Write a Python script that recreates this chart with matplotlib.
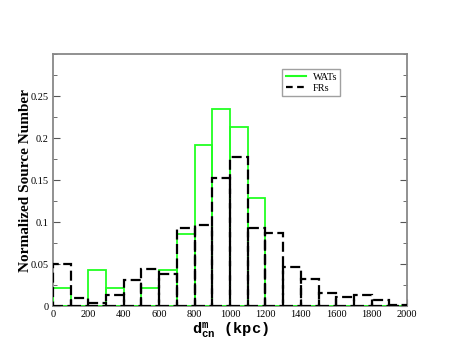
import numpy as np
import matplotlib
matplotlib.use("Agg")
import matplotlib.pyplot as plt
from matplotlib.ticker import MultipleLocator
from matplotlib.lines import Line2D

plt.rcParams['mathtext.fontset'] = 'custom'
plt.rcParams['mathtext.bf'] = 'Liberation Mono:bold'
plt.rcParams['mathtext.rm'] = 'Liberation Mono:bold'

# bin left edges (kpc), bin width 100
bin_left = list(range(0, 2000, 100))
wats = [0.021, 0.0, 0.043, 0.021, 0.0, 0.021, 0.043, 0.086, 0.192, 0.234,
        0.213, 0.128, 0.0, 0.0, 0.0, 0.0, 0.0, 0.0, 0.0, 0.0]
frs = [0.050, 0.010, 0.004, 0.013, 0.031, 0.044, 0.038, 0.093, 0.097, 0.152,
       0.177, 0.093, 0.087, 0.047, 0.032, 0.016, 0.011, 0.013, 0.007, 0.001]

fig = plt.figure(figsize=(4.58, 3.6), dpi=100)
ax = fig.add_axes([0.1157, 0.15, 0.773, 0.70])

ax.bar(bin_left, wats, width=100, align='edge', fill=False,
       edgecolor='#22ff22', linewidth=1.3, zorder=3)
ax.bar(bin_left, frs, width=100, align='edge', fill=False,
       edgecolor='black', linewidth=1.6, linestyle=(0, (4.5, 2)), zorder=4)

ax.set_xlim(0, 2000)
ax.set_ylim(0, 0.3)
ax.xaxis.set_major_locator(MultipleLocator(200))
ax.xaxis.set_minor_locator(MultipleLocator(100))
ax.yaxis.set_minor_locator(MultipleLocator(0.025))
ax.set_yticks([0, 0.05, 0.1, 0.15, 0.2, 0.25])
ax.set_yticklabels(['0', '0.05', '0.1', '0.15', '0.2', '0.25'])

for s in ax.spines.values():
    s.set_color('#888888')
    s.set_linewidth(1.3)

ax.tick_params(which='both', direction='in', right=True, top=False,
               color='#555555', labelsize=7.5, pad=3)
ax.tick_params(which='major', length=5)
ax.tick_params(which='minor', length=3)
for lab in ax.get_xticklabels() + ax.get_yticklabels():
    lab.set_family('Liberation Serif')

ax.set_ylabel('Normalized Source Number', family='Liberation Serif',
              fontweight='bold', fontsize=11, labelpad=-1)
ax.set_xlabel(r'$\mathbf{d^{m}_{cn}}$ (kpc)', family='Liberation Mono',
              fontweight='bold', fontsize=11, labelpad=1)

handles = [Line2D([], [], color='#22ff22', lw=1.5),
           Line2D([], [], color='black', lw=1.6, linestyle=(0, (3, 2)))]
leg = ax.legend(handles, ['WATs', 'FRs'], loc='upper left',
                bbox_to_anchor=(0.648, 0.94),
                prop={'family': 'Liberation Serif', 'size': 7.5},
                frameon=True, fancybox=False, handlelength=2.0,
                borderpad=0.3, labelspacing=0.2, handletextpad=0.6,
                borderaxespad=0)
leg.get_frame().set_edgecolor('#888888')
leg.get_frame().set_linewidth(1.0)

fig.savefig('out.png', dpi=100)
